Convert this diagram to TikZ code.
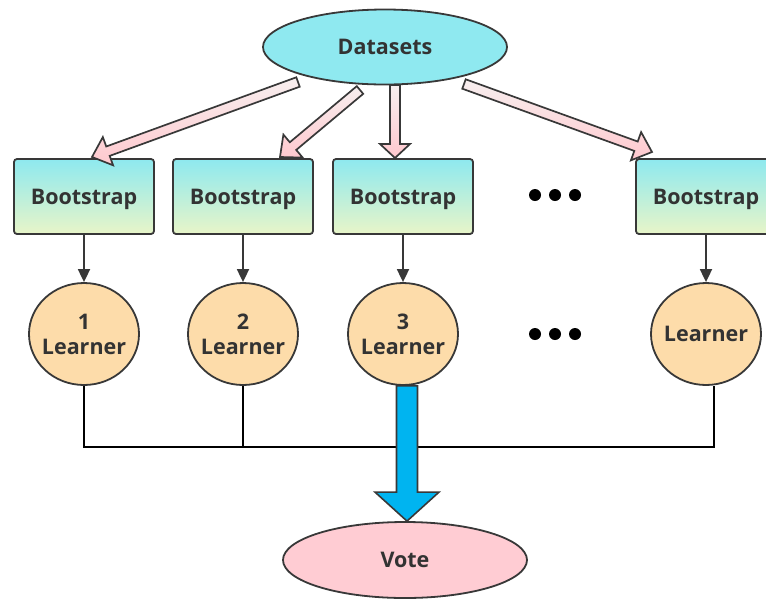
\documentclass[tikz,border=0pt]{standalone}
\usepackage{fontspec}
\setmainfont{Open Sans}
\usetikzlibrary{calc,shapes.geometric,arrows.meta}

\definecolor{edge}{HTML}{383838}
\definecolor{txt}{HTML}{333333}
\definecolor{dataFill}{HTML}{8FE9F0}
\definecolor{bootTop}{HTML}{8EE9EF}
\definecolor{bootBot}{HTML}{E8F5C8}
\definecolor{learnFill}{HTML}{FDDCAA}
\definecolor{voteFill}{HTML}{FFCCD3}
\definecolor{voteBlue}{HTML}{00B4F0}
\definecolor{pinkTop}{HTML}{F7EFEF}
\definecolor{pinkBot}{HTML}{FFC8CE}

% broad outlined arrow: [style]{tail}{tip}{shaft half width}{head half width}{head length}
\newcommand{\fatarrow}[6][]{%
  \coordinate (fa-c) at ($(#3)!#6!(#2)$);
  \path[#1] ($(#2)!#4!90:(#3)$) -- ($(fa-c)!#4!90:(#3)$) -- ($(fa-c)!#5!90:(#3)$)
    -- (#3) -- ($(fa-c)!#5!-90:(#3)$) -- ($(fa-c)!#4!-90:(#3)$)
    -- ($(#2)!#4!-90:(#3)$) -- cycle;}

\tikzset{
  lbl/.style={font=\bfseries\fontsize{21.5}{25}\selectfont, text=txt},
  blob/.style={ellipse, draw=edge, line width=1.8pt, inner sep=0pt,
    minimum width=244pt, minimum height=75pt, lbl, text depth=0pt},
  bootbox/.style={rectangle, rounded corners=3pt, draw=edge, line width=1.8pt,
    top color=bootTop, bottom color=bootBot, minimum width=140pt,
    minimum height=75pt, inner sep=0pt, lbl, text depth=0pt},
  learner/.style={ellipse, draw=edge, fill=learnFill, line width=1.8pt,
    minimum width=110pt, minimum height=102pt, inner sep=-5pt, lbl, align=center},
  feed/.style={draw=edge, line width=1.8pt, -{Triangle[length=13pt,width=12pt]}},
  wire/.style={draw=black, line width=1.6pt},
  hollow/.style={draw=edge, line width=1.7pt, line join=miter,
    top color=pinkTop, bottom color=pinkBot},
  bigblue/.style={draw=edge, line width=1.6pt, line join=miter, fill=voteBlue},
  dotmark/.style={circle, fill=black, minimum size=12pt, inner sep=0pt},
}

\begin{document}
\begin{tikzpicture}[x=1pt, y=-1pt]
\useasboundingbox (0,0) rectangle (766,598);

% collecting lines under the learners
\coordinate (busR) at (714,447);

% nodes
\node[blob, fill=dataFill] (ds) at (385,47) {Datasets};

\node[bootbox] (b1) at (84,196.5) {Bootstrap};
\node[bootbox] (b2) at (243,196.5) {Bootstrap};
\node[bootbox] (b3) at (403,196.5) {Bootstrap};
\node[bootbox] (b5) at (706,196.5) {Bootstrap};

\node[learner] (l1) at (84,334) {1\\Learner};
\node[learner] (l2) at (243,334) {2\\Learner};
\node[learner] (l3) at (403,334) {3\\Learner};
\node[learner] (l5) at (706,334) {Learner};

\node[blob, fill=voteFill, minimum height=76pt] (vote) at (405,560) {Vote};

% ellipsis dots
\node[dotmark] (u1) at (535,195) {};
\node[dotmark] (u2) at (555,195) {};
\node[dotmark] (u3) at (575,195) {};
\node[dotmark] (w1) at (535,334) {};
\node[dotmark] (w2) at (555,334) {};
\node[dotmark] (w3) at (575,334) {};

% sampling arrows from the data set
\coordinate (s1) at (298,82);  \coordinate (e1) at (92,157);
\coordinate (s2) at (360,90);  \coordinate (e2) at (280,157);
\coordinate (s3) at (395,85);  \coordinate (e3) at (395,158);
\coordinate (s4) at (464,84);  \coordinate (e4) at (652,152);
\fatarrow[hollow]{s1}{e1}{5pt}{15pt}{17pt}
\fatarrow[hollow]{s2}{e2}{5pt}{15pt}{17pt}
\fatarrow[hollow]{s3}{e3}{5pt}{15pt}{14pt}
\fatarrow[hollow]{s4}{e4}{5pt}{15pt}{17pt}

% bootstrap samples to learners
\draw[feed] (b1) -- (l1);
\draw[feed] (b2) -- (l2);
\draw[feed] (b3) -- (l3);
\draw[feed] (b5) -- (l5);

% learner outputs joined
\draw[wire] (l1.south) |- (busR) -- (busR |- l5.south);
\draw[wire] (l2.south) -- (l2.south |- busR);

% combined output into the vote
\coordinate (vs) at ([xshift=4pt]l3.south);
\coordinate (vt) at (vs |- vote.north);
\fatarrow[bigblue]{vs}{vt}{10.5pt}{32pt}{29pt}
\end{tikzpicture}
\end{document}
